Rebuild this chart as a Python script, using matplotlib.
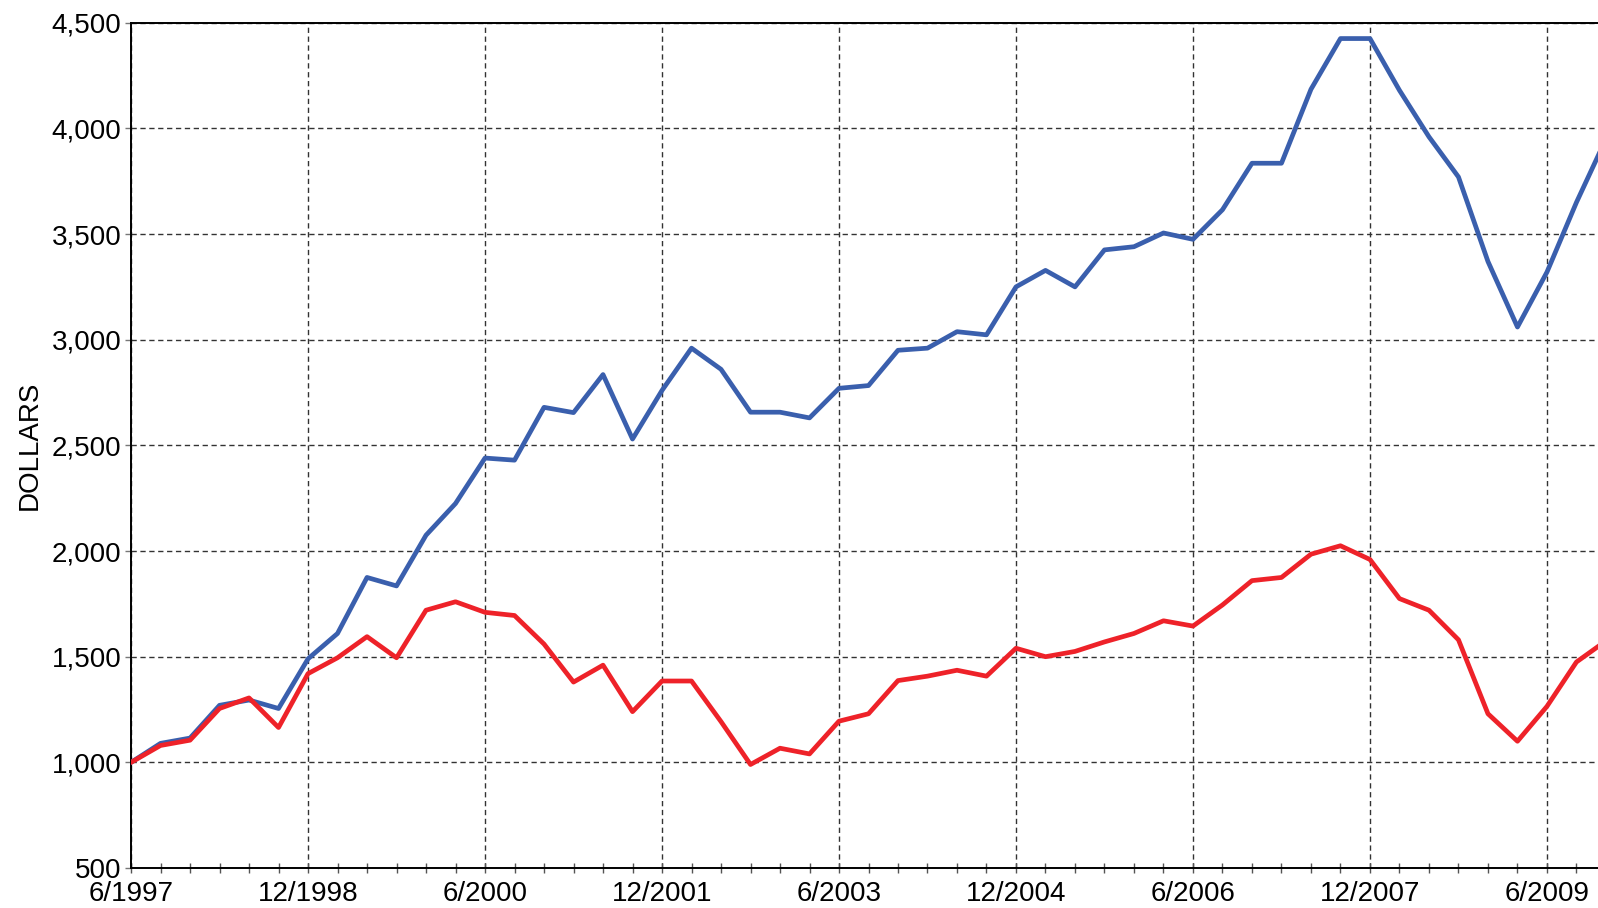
import matplotlib
matplotlib.use("Agg")
import matplotlib.pyplot as plt
from matplotlib.ticker import FuncFormatter, MultipleLocator

plt.rcParams['font.family'] = ['Liberation Sans', 'DejaVu Sans']

# quarterly values, 6/1997 .. 9/2009
blue = [1000, 1090, 1115, 1270, 1295, 1255, 1490, 1610, 1875, 1835,
        2075, 2225, 2440, 2430, 2680, 2655, 2835, 2530, 2760, 2960,
        2860, 2657, 2657, 2630, 2770, 2783, 2950, 2960, 3038, 3023,
        3250, 3328, 3250, 3425, 3440, 3505, 3475, 3615, 3835, 3835,
        4185, 4425, 4425, 4180, 3960, 3770, 3370, 3060, 3320, 3650,
        3950]
red = [1000, 1080, 1105, 1255, 1305, 1165, 1420, 1495, 1595, 1495,
       1720, 1760, 1710, 1695, 1560, 1380, 1460, 1240, 1385, 1385,
       1193, 990, 1067, 1040, 1195, 1230, 1387, 1408, 1436, 1408,
       1540, 1500, 1525, 1570, 1610, 1670, 1645, 1745, 1860, 1875,
       1985, 2025, 1960, 1775, 1720, 1580, 1230, 1100, 1265, 1475,
       1575]
tick_labels = ["6/1997", "12/1998", "6/2000", "12/2001", "6/2003",
               "12/2004", "6/2006", "12/2007", "6/2009"]
quarters = list(range(len(blue)))

fig = plt.figure(figsize=(15.98, 9.08), dpi=100)
ax = fig.add_axes([0.082, 0.044, 0.918, 0.931])

ax.plot(quarters, blue, color='#3a5fad', lw=3.4, zorder=3)
ax.plot(quarters, red, color='#ee2229', lw=3.4, zorder=3)

ax.set_xlim(0, 49.73)
ax.set_ylim(500, 4500)
ax.set_xticks(range(0, 6 * len(tick_labels), 6))
ax.set_xticklabels(tick_labels)
ax.xaxis.set_minor_locator(MultipleLocator(1))
ax.yaxis.set_major_locator(MultipleLocator(500))
ax.yaxis.set_major_formatter(FuncFormatter(lambda v, p: f"{int(v):,}"))

ax.grid(True, which='major', ls=(0, (3.8, 2.6)), color='#333333', lw=1)
ax.spines['right'].set_visible(False)
for s in ['left', 'bottom', 'top']:
    ax.spines[s].set_linewidth(1.4)

ax.tick_params(axis='x', which='both', direction='inout', length=6.5, width=1,
               color='#555555', labelsize=20, pad=6)
ax.tick_params(axis='y', direction='out', length=4, width=1, color='#777777',
               labelsize=20, pad=3)
ax.set_ylabel("DOLLARS", fontsize=20, labelpad=6)

fig.savefig("out.png", dpi=100)
